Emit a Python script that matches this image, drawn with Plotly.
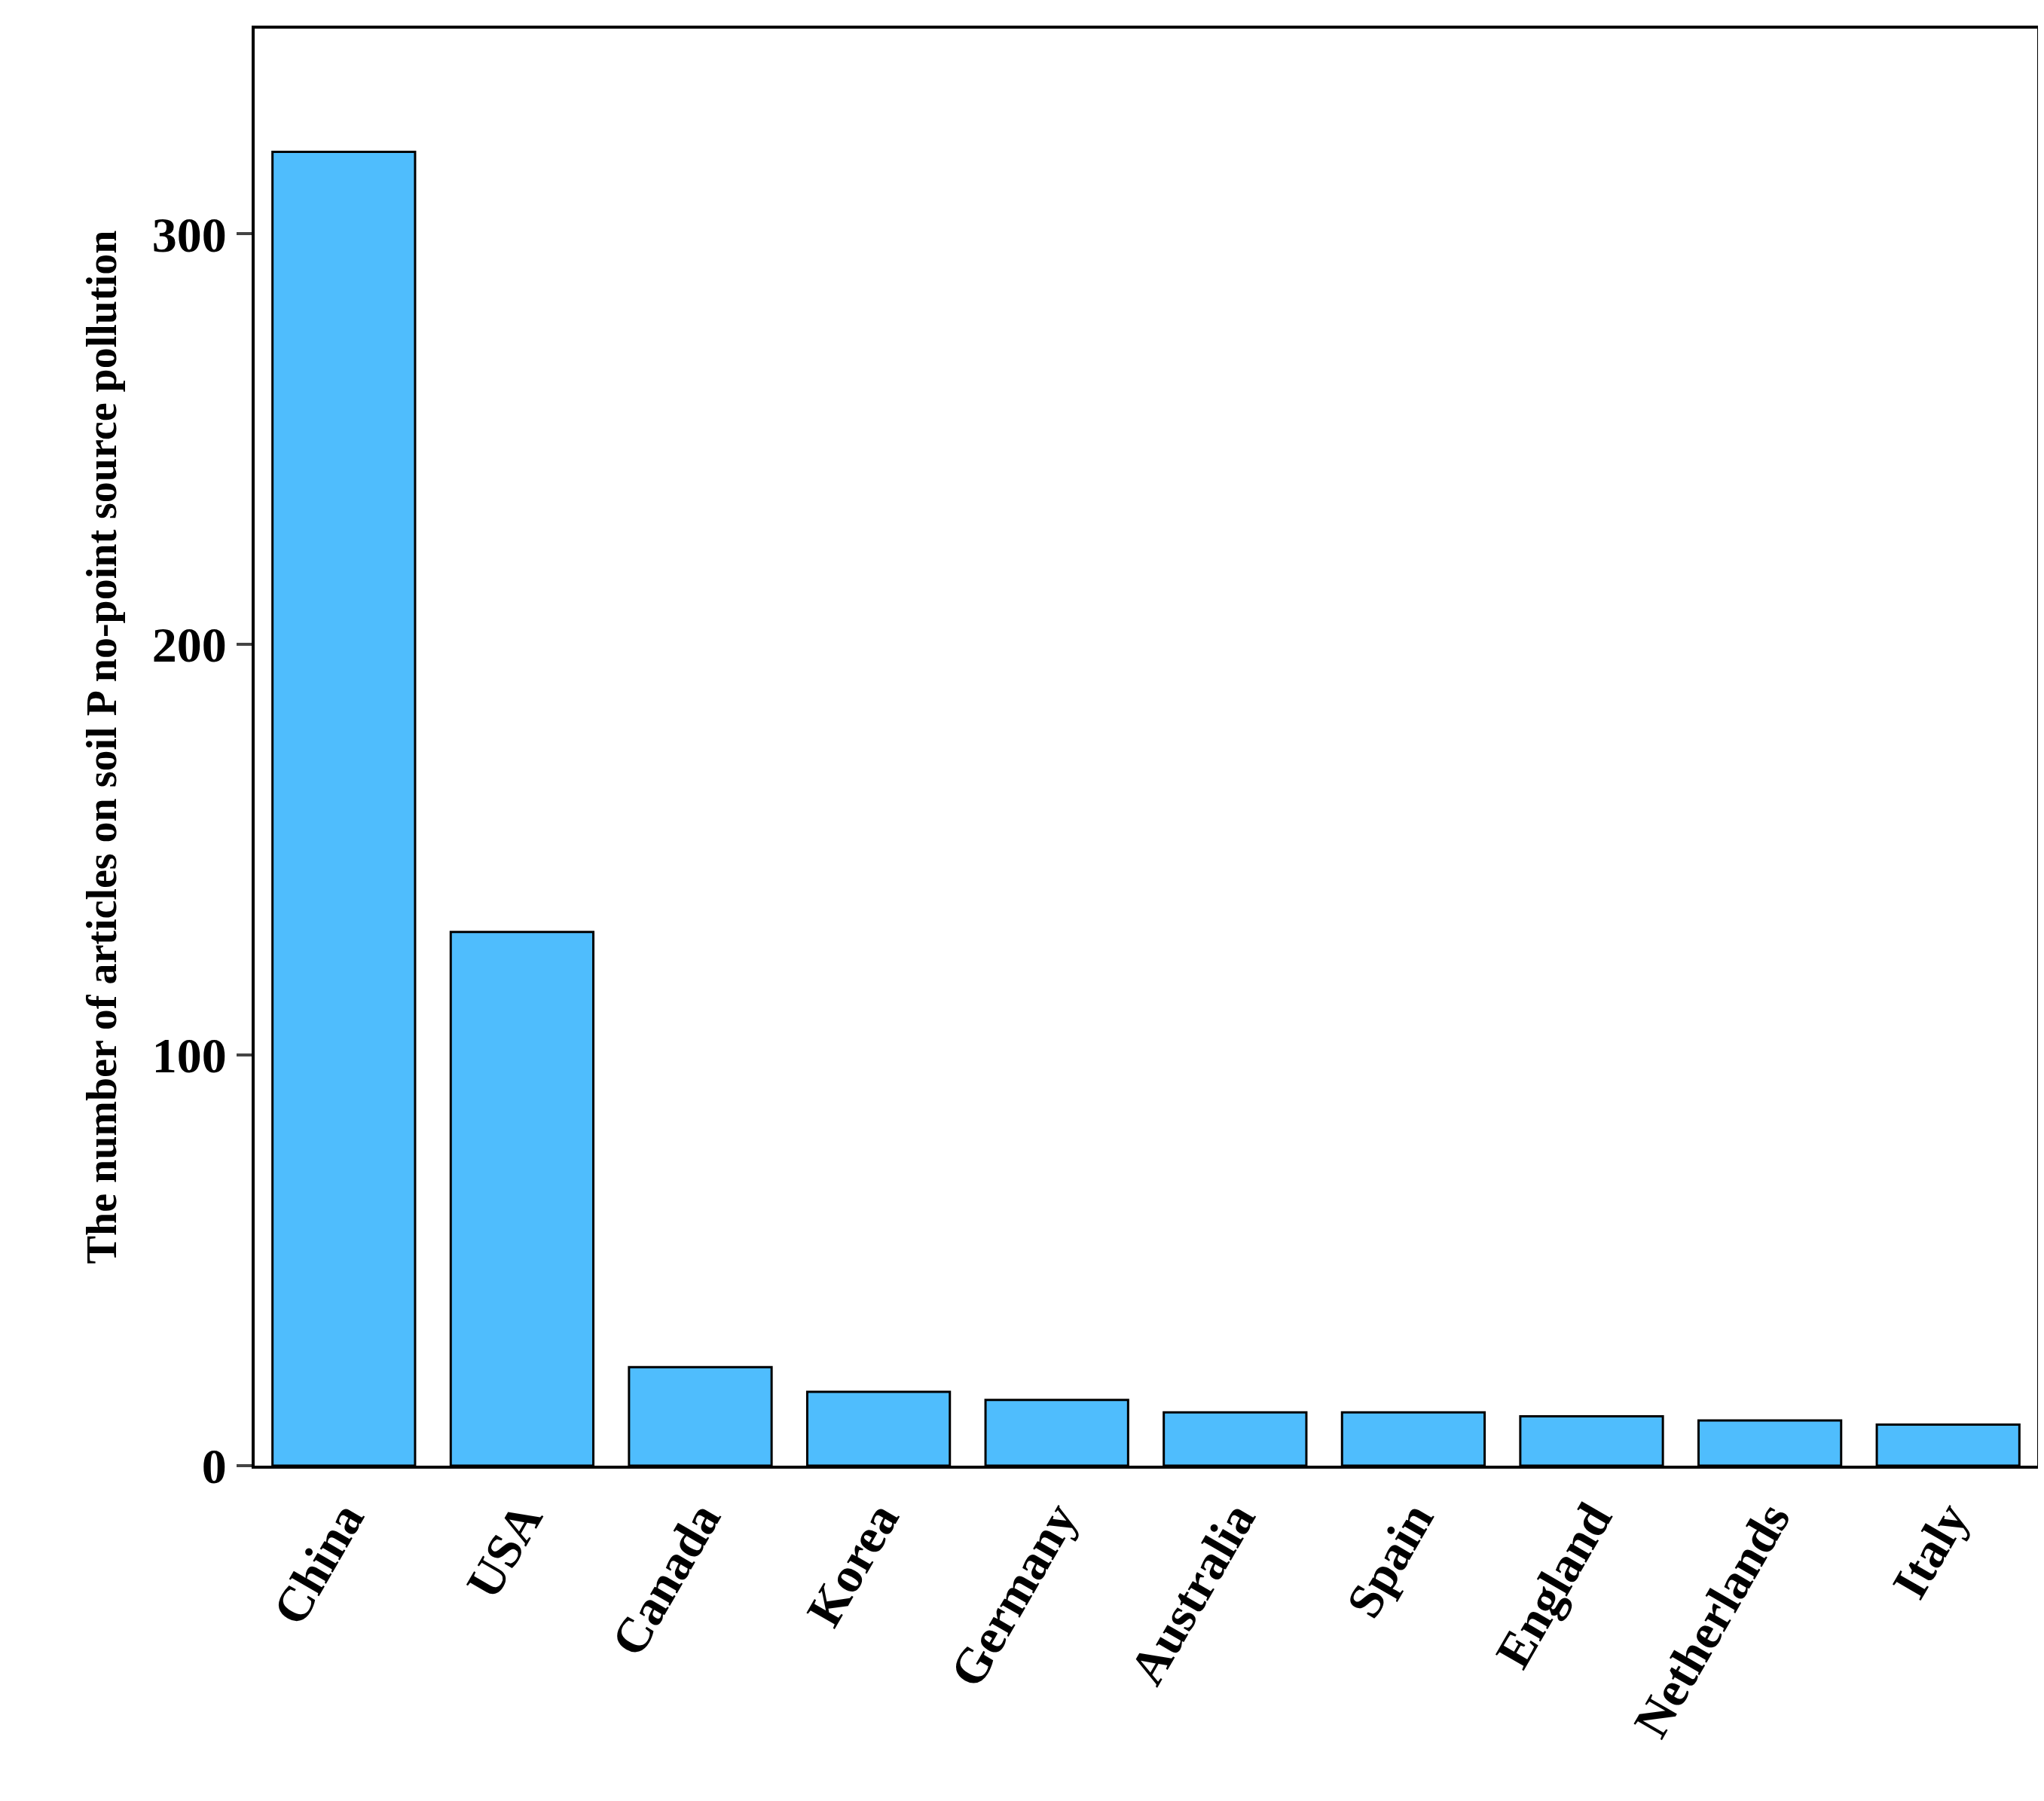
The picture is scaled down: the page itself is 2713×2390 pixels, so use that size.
import plotly.graph_objects as go

countries = ["China", "USA", "Canada", "Korea", "Germany", "Australia", "Spain", "England", "Netherlands", "Italy"]
articles = [320, 130, 24, 18, 16, 13, 13, 12, 11, 10]

font = dict(family="Liberation Serif", color="black")
fig = go.Figure(go.Bar(x=countries, y=articles, marker=dict(color="#4FBDFD", line=dict(color="black", width=3))))
fig.update_layout(
    width=2713, height=2390, plot_bgcolor="white", paper_bgcolor="white",
    margin=dict(l=330, r=17, t=30, b=453), bargap=0.2, showlegend=False,
    font=font,
)
fig.update_xaxes(showline=True, linewidth=4, linecolor="black", mirror=True, ticks="",
                 tickangle=-60, tickfont=dict(size=66, family="Liberation Serif", weight="bold"))
fig.update_yaxes(range=[0, 350], tickvals=[0, 100, 200, 300], showline=True, linewidth=4, linecolor="black",
                 mirror=True, ticks="outside", ticklen=20, tickwidth=4, showgrid=False, zeroline=False,
                 tickfont=dict(size=66, family="Liberation Serif", weight="bold"),
                 title=dict(text="<b>The number of articles on soil P no-point source pollution</b>",
                            font=dict(size=56, family="Liberation Serif"), standoff=30))
fig.write_html("out.html")
